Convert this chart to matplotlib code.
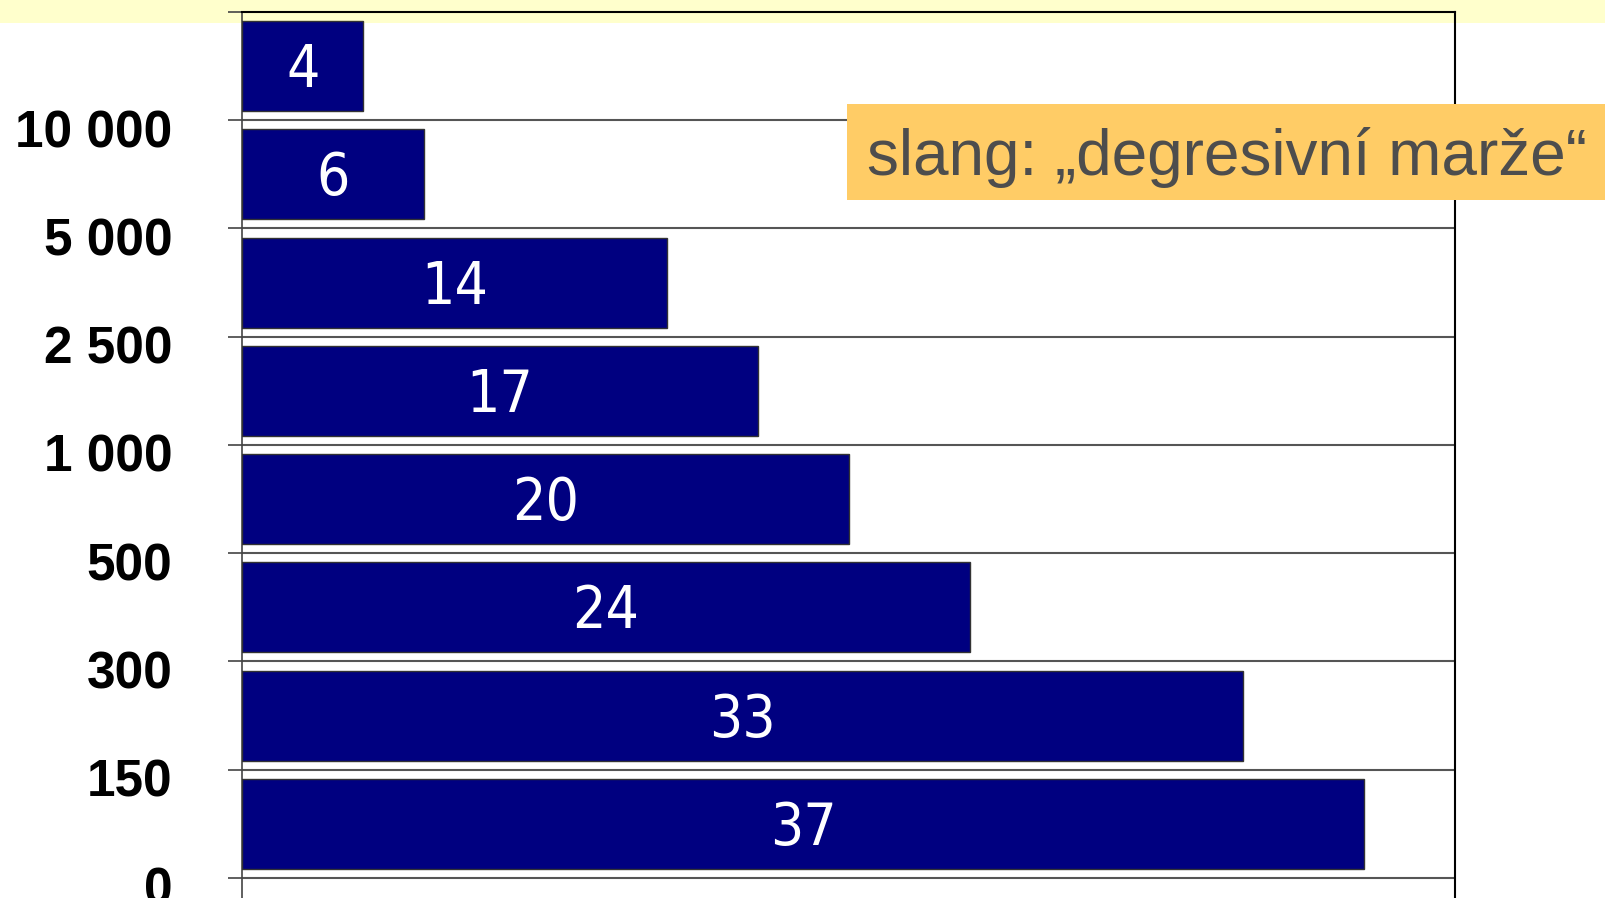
import matplotlib.pyplot as plt
import matplotlib.patches as patches
import matplotlib.transforms as mtransforms
from matplotlib import font_manager
import numpy as np

# bar values, bottom to top
values = [37, 33, 24, 20, 17, 14, 6, 4]
# labels at the boundaries between bars, bottom to top
boundary_labels = ["0", "150", "300", "500", "1 000", "2 500", "5 000", "10 000", ""]
note_text = "slang: \u201edegresivn\u00ed mar\u017ee\u201c"

bar_color = "#000080"
strip_color = "#FFFFCC"
note_color = "#FFCC66"


def main():
    fig = plt.figure(figsize=(16.06, 8.98), dpi=100)
    fig.patch.set_facecolor("white")

    # light yellow strip along the top edge
    fig.patches.append(patches.Rectangle((0, 1 - 23 / 898), 1, 23 / 898,
                                         transform=fig.transFigure,
                                         facecolor=strip_color, edgecolor="none",
                                         zorder=-1))

    ax = fig.add_axes([242 / 1606, 0, 1213 / 1606, 1 - 12 / 898])
    ax.set_facecolor("none")
    ax.set_zorder(1)

    narrow = font_manager.FontProperties(family="DejaVu Sans", stretch="condensed",
                                         size=42)

    pos = np.arange(len(values))
    bars = ax.barh(pos, values, height=0.83, color=bar_color,
                   edgecolor="#333333", linewidth=1.0, zorder=3)
    # digits are ~42 px tall, one category is ~108 px
    half_digit = 0.5 * 42 / 108.25
    for rect, v in zip(bars, values):
        ax.text(rect.get_x() + rect.get_width() / 2,
                rect.get_y() + rect.get_height() / 2 - half_digit,
                str(v), ha="center", va="baseline", color="white",
                fontproperties=narrow, zorder=4)

    ax.set_xlim(0, 40)
    ax.set_ylim(-0.685, len(values) - 0.5)

    # boundaries between bars
    bounds = np.arange(len(values) + 1) - 0.5
    ax.set_yticks(bounds)
    ax.set_yticklabels(boundary_labels, fontsize=37, fontweight="bold",
                       family="Liberation Sans")
    for b in bounds[:-1]:
        ax.axhline(b, color="#555555", linewidth=1.5, zorder=2)
    ax.tick_params(axis="y", length=10, width=1.2, color="#444444", pad=40)
    offset = mtransforms.ScaledTranslation(0, -8 / 100, fig.dpi_scale_trans)
    for lbl in ax.get_yticklabels():
        lbl.set_transform(lbl.get_transform() + offset)

    ax.set_xticks([])
    ax.spines["bottom"].set_visible(False)
    ax.spines["top"].set_color("black")
    ax.spines["top"].set_linewidth(1.5)
    ax.spines["right"].set_color("black")
    ax.spines["right"].set_linewidth(1.5)
    ax.spines["left"].set_color("#444444")
    ax.spines["left"].set_linewidth(1.2)

    # note box, drawn above the axes
    fig.patches.append(patches.Rectangle((847 / 1606, 1 - 200 / 898), 759 / 1606, 96 / 898,
                                         transform=fig.transFigure,
                                         facecolor=note_color, edgecolor="none",
                                         zorder=5))
    fig.text(1227 / 1606, 1 - 157 / 898, note_text, ha="center", va="center",
             fontsize=46, color="#4D4D4D", family="Liberation Sans", zorder=6)

    fig.savefig("out.png", dpi=100)


if __name__ == '__main__':
    main()
